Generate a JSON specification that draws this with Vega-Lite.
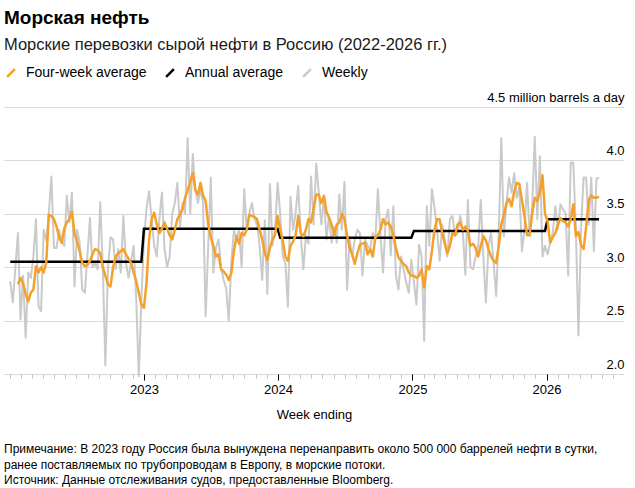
{
  "$schema": "https://vega.github.io/schema/vega-lite/v6.json",
  "background": "white",
  "padding": {"left": 4, "top": 8, "right": 11, "bottom": 2},
  "config": {
    "font": "Liberation Sans",
    "view": {"stroke": null}
  },
  "title": {
    "text": [
      "Примечание: В 2023 году Россия была вынуждена перенаправить около 500 000 баррелей нефти в сутки,",
      "ранее поставляемых по трубопроводам в Европу, в морские потоки.",
      "Источник: Данные отслеживания судов, предоставленные Bloomberg."
    ],
    "orient": "bottom",
    "anchor": "start",
    "fontSize": 12,
    "fontWeight": "normal",
    "lineHeight": 15.5,
    "offset": 23,
    "color": "#000"
  },
  "resolve": {"scale": {"color": "independent"}, "legend": {"color": "independent"}},
  "datasets": {
    "oil": [
      {"d":"2022-01-02","w":2.87,"a":3.05},
      {"d":"2022-01-09","w":2.67,"a":3.05},
      {"d":"2022-01-16","w":3.00,"a":3.05},
      {"d":"2022-01-23","w":3.32,"m":2.84,"a":3.05},
      {"d":"2022-01-30","w":2.51,"m":2.90,"a":3.05},
      {"d":"2022-02-06","w":2.92,"m":2.85,"a":3.05},
      {"d":"2022-02-13","w":2.34,"m":2.75,"a":3.05},
      {"d":"2022-02-20","w":2.95,"m":2.68,"a":3.05},
      {"d":"2022-02-27","w":2.90,"m":2.76,"a":3.05},
      {"d":"2022-03-06","w":3.10,"m":2.79,"a":3.05},
      {"d":"2022-03-13","w":3.45,"m":3.01,"a":3.05},
      {"d":"2022-03-20","w":2.63,"m":2.95,"a":3.05},
      {"d":"2022-03-27","w":2.59,"m":3.00,"a":3.05},
      {"d":"2022-04-03","w":3.35,"m":2.95,"a":3.05},
      {"d":"2022-04-10","w":3.25,"m":3.04,"a":3.05},
      {"d":"2022-04-17","w":3.50,"m":3.49,"a":3.05},
      {"d":"2022-04-24","w":3.85,"m":3.48,"a":3.05},
      {"d":"2022-05-01","w":3.18,"m":3.45,"a":3.05},
      {"d":"2022-05-08","w":3.18,"m":3.38,"a":3.05},
      {"d":"2022-05-15","w":3.35,"m":3.28,"a":3.05},
      {"d":"2022-05-22","w":3.25,"m":3.23,"a":3.05},
      {"d":"2022-05-29","w":3.20,"m":3.36,"a":3.05},
      {"d":"2022-06-05","w":3.67,"m":3.42,"a":3.05},
      {"d":"2022-06-12","w":3.42,"m":3.45,"a":3.05},
      {"d":"2022-06-19","w":3.70,"m":3.52,"a":3.05},
      {"d":"2022-06-26","w":2.82,"m":3.32,"a":3.05},
      {"d":"2022-07-03","w":3.35,"m":3.24,"a":3.05},
      {"d":"2022-07-10","w":3.23,"m":3.15,"a":3.05},
      {"d":"2022-07-17","w":2.79,"m":3.04,"a":3.05},
      {"d":"2022-07-24","w":2.76,"m":3.01,"a":3.05},
      {"d":"2022-07-31","w":3.10,"m":3.02,"a":3.05},
      {"d":"2022-08-07","w":3.46,"m":3.06,"a":3.05},
      {"d":"2022-08-14","w":3.00,"m":3.12,"a":3.05},
      {"d":"2022-08-21","w":3.04,"m":3.17,"a":3.05},
      {"d":"2022-08-28","w":2.98,"m":3.16,"a":3.05},
      {"d":"2022-09-04","w":3.61,"m":3.13,"a":3.05},
      {"d":"2022-09-11","w":3.00,"m":3.00,"a":3.05},
      {"d":"2022-09-18","w":2.08,"m":2.92,"a":3.05},
      {"d":"2022-09-25","w":2.98,"m":2.84,"a":3.05},
      {"d":"2022-10-02","w":3.28,"m":2.82,"a":3.05},
      {"d":"2022-10-09","w":3.26,"m":3.00,"a":3.05},
      {"d":"2022-10-16","w":2.98,"m":3.10,"a":3.05},
      {"d":"2022-10-23","w":3.17,"m":3.13,"a":3.05},
      {"d":"2022-10-30","w":2.95,"m":3.15,"a":3.05},
      {"d":"2022-11-06","w":3.48,"m":3.17,"a":3.05},
      {"d":"2022-11-13","w":3.04,"m":3.12,"a":3.05},
      {"d":"2022-11-20","w":2.90,"m":3.08,"a":3.05},
      {"d":"2022-11-27","w":3.05,"m":3.04,"a":3.05},
      {"d":"2022-12-04","w":3.20,"m":2.95,"a":3.05},
      {"d":"2022-12-11","w":2.70,"m":2.87,"a":3.05},
      {"d":"2022-12-18","w":1.98,"m":2.76,"a":3.05},
      {"d":"2022-12-25","w":2.70,"m":2.65,"a":3.05},
      {"d":"2023-01-01","w":3.25,"m":2.62,"a":3.36},
      {"d":"2023-01-08","w":3.55,"m":2.85,"a":3.36},
      {"d":"2023-01-15","w":3.71,"m":3.26,"a":3.36},
      {"d":"2023-01-22","w":3.45,"m":3.45,"a":3.36},
      {"d":"2023-01-29","w":3.20,"m":3.51,"a":3.36},
      {"d":"2023-02-05","w":3.10,"m":3.40,"a":3.36},
      {"d":"2023-02-12","w":3.45,"m":3.32,"a":3.36},
      {"d":"2023-02-19","w":3.70,"m":3.36,"a":3.36},
      {"d":"2023-02-26","w":3.17,"m":3.42,"a":3.36},
      {"d":"2023-03-05","w":3.00,"m":3.36,"a":3.36},
      {"d":"2023-03-12","w":3.10,"m":3.30,"a":3.36},
      {"d":"2023-03-19","w":3.50,"m":3.26,"a":3.36},
      {"d":"2023-03-26","w":3.60,"m":3.35,"a":3.36},
      {"d":"2023-04-02","w":3.79,"m":3.45,"a":3.36},
      {"d":"2023-04-09","w":3.38,"m":3.49,"a":3.36},
      {"d":"2023-04-16","w":3.60,"m":3.55,"a":3.36},
      {"d":"2023-04-23","w":3.50,"m":3.65,"a":3.36},
      {"d":"2023-04-30","w":4.21,"m":3.72,"a":3.36},
      {"d":"2023-05-07","w":3.50,"m":3.80,"a":3.36},
      {"d":"2023-05-14","w":4.06,"m":3.88,"a":3.36},
      {"d":"2023-05-21","w":3.73,"m":3.72,"a":3.36},
      {"d":"2023-05-28","w":3.60,"m":3.68,"a":3.36},
      {"d":"2023-06-04","w":3.73,"m":3.79,"a":3.36},
      {"d":"2023-06-11","w":3.60,"m":3.67,"a":3.36},
      {"d":"2023-06-18","w":2.54,"m":3.62,"a":3.36},
      {"d":"2023-06-25","w":3.20,"m":3.40,"a":3.36},
      {"d":"2023-07-02","w":3.84,"m":3.28,"a":3.36},
      {"d":"2023-07-09","w":2.95,"m":3.20,"a":3.36},
      {"d":"2023-07-16","w":3.18,"m":3.10,"a":3.36},
      {"d":"2023-07-23","w":3.26,"m":3.12,"a":3.36},
      {"d":"2023-07-30","w":3.00,"m":2.98,"a":3.36},
      {"d":"2023-08-06","w":2.88,"m":2.96,"a":3.36},
      {"d":"2023-08-13","w":2.80,"m":2.93,"a":3.36},
      {"d":"2023-08-20","w":2.50,"m":2.88,"a":3.36},
      {"d":"2023-08-27","w":3.05,"m":2.95,"a":3.36},
      {"d":"2023-09-03","w":3.35,"m":3.15,"a":3.36},
      {"d":"2023-09-10","w":3.26,"m":3.29,"a":3.36},
      {"d":"2023-09-17","w":3.35,"m":3.22,"a":3.36},
      {"d":"2023-09-24","w":3.00,"m":3.32,"a":3.36},
      {"d":"2023-10-01","w":3.73,"m":3.30,"a":3.36},
      {"d":"2023-10-08","w":3.35,"m":3.35,"a":3.36},
      {"d":"2023-10-15","w":3.51,"m":3.49,"a":3.36},
      {"d":"2023-10-22","w":3.60,"m":3.48,"a":3.36},
      {"d":"2023-10-29","w":3.45,"m":3.47,"a":3.36},
      {"d":"2023-11-05","w":3.40,"m":3.45,"a":3.36},
      {"d":"2023-11-12","w":3.20,"m":3.35,"a":3.36},
      {"d":"2023-11-19","w":2.88,"m":3.26,"a":3.36},
      {"d":"2023-11-26","w":3.44,"m":3.13,"a":3.36},
      {"d":"2023-12-03","w":2.75,"m":3.07,"a":3.36},
      {"d":"2023-12-10","w":3.78,"m":3.18,"a":3.36},
      {"d":"2023-12-17","w":3.20,"m":3.26,"a":3.36},
      {"d":"2023-12-24","w":3.35,"m":3.30,"a":3.36},
      {"d":"2023-12-31","w":3.79,"m":3.48,"a":3.36},
      {"d":"2024-01-07","w":3.50,"m":3.35,"a":3.275},
      {"d":"2024-01-14","w":3.10,"m":3.25,"a":3.275},
      {"d":"2024-01-21","w":3.04,"m":3.10,"a":3.275},
      {"d":"2024-01-28","w":2.63,"m":3.06,"a":3.275},
      {"d":"2024-02-04","w":3.66,"m":3.20,"a":3.275},
      {"d":"2024-02-11","w":3.35,"m":3.24,"a":3.275},
      {"d":"2024-02-18","w":3.51,"m":3.30,"a":3.275},
      {"d":"2024-02-25","w":3.76,"m":3.48,"a":3.275},
      {"d":"2024-03-03","w":3.30,"m":3.32,"a":3.275},
      {"d":"2024-03-10","w":2.98,"m":3.29,"a":3.275},
      {"d":"2024-03-17","w":3.30,"m":3.35,"a":3.275},
      {"d":"2024-03-24","w":3.22,"m":3.45,"a":3.275},
      {"d":"2024-03-31","w":3.85,"m":3.42,"a":3.275},
      {"d":"2024-04-07","w":3.40,"m":3.55,"a":3.275},
      {"d":"2024-04-14","w":3.97,"m":3.68,"a":3.275},
      {"d":"2024-04-21","w":3.70,"m":3.68,"a":3.275},
      {"d":"2024-04-28","w":3.40,"m":3.60,"a":3.275},
      {"d":"2024-05-05","w":3.66,"m":3.67,"a":3.275},
      {"d":"2024-05-12","w":3.26,"m":3.52,"a":3.275},
      {"d":"2024-05-19","w":3.48,"m":3.46,"a":3.275},
      {"d":"2024-05-26","w":3.23,"m":3.40,"a":3.275},
      {"d":"2024-06-02","w":3.38,"m":3.30,"a":3.275},
      {"d":"2024-06-09","w":3.23,"m":3.40,"a":3.275},
      {"d":"2024-06-16","w":3.68,"m":3.42,"a":3.275},
      {"d":"2024-06-23","w":3.35,"m":3.50,"a":3.275},
      {"d":"2024-06-30","w":3.80,"m":3.45,"a":3.275},
      {"d":"2024-07-07","w":2.79,"m":3.30,"a":3.275},
      {"d":"2024-07-14","w":3.26,"m":3.18,"a":3.275},
      {"d":"2024-07-21","w":3.10,"m":3.12,"a":3.275},
      {"d":"2024-07-28","w":3.26,"m":3.03,"a":3.275},
      {"d":"2024-08-04","w":3.35,"m":3.13,"a":3.275},
      {"d":"2024-08-11","w":3.32,"m":3.21,"a":3.275},
      {"d":"2024-08-18","w":2.92,"m":3.22,"a":3.275},
      {"d":"2024-08-25","w":3.26,"m":3.23,"a":3.275},
      {"d":"2024-09-01","w":3.20,"m":3.12,"a":3.275},
      {"d":"2024-09-08","w":3.17,"m":3.17,"a":3.275},
      {"d":"2024-09-15","w":3.32,"m":3.10,"a":3.275},
      {"d":"2024-09-22","w":3.26,"m":3.28,"a":3.275},
      {"d":"2024-09-29","w":3.73,"m":3.30,"a":3.275},
      {"d":"2024-10-06","w":3.30,"m":3.35,"a":3.275},
      {"d":"2024-10-13","w":2.95,"m":3.45,"a":3.275},
      {"d":"2024-10-20","w":3.45,"m":3.40,"a":3.275},
      {"d":"2024-10-27","w":3.54,"m":3.42,"a":3.275},
      {"d":"2024-11-03","w":3.11,"m":3.38,"a":3.275},
      {"d":"2024-11-10","w":3.57,"m":3.30,"a":3.275},
      {"d":"2024-11-17","w":2.92,"m":3.18,"a":3.275},
      {"d":"2024-11-24","w":2.79,"m":3.09,"a":3.275},
      {"d":"2024-12-01","w":3.10,"m":3.06,"a":3.275},
      {"d":"2024-12-08","w":2.98,"m":3.03,"a":3.275},
      {"d":"2024-12-15","w":2.86,"m":3.01,"a":3.275},
      {"d":"2024-12-22","w":2.76,"m":2.95,"a":3.275},
      {"d":"2024-12-29","w":3.07,"m":2.92,"a":3.275},
      {"d":"2025-01-05","w":2.86,"m":2.92,"a":3.34},
      {"d":"2025-01-12","w":2.65,"m":2.90,"a":3.34},
      {"d":"2025-01-19","w":3.21,"m":2.92,"a":3.34},
      {"d":"2025-01-26","w":3.10,"m":2.98,"a":3.34},
      {"d":"2025-02-02","w":2.31,"m":2.81,"a":3.34},
      {"d":"2025-02-09","w":3.57,"m":3.01,"a":3.34},
      {"d":"2025-02-16","w":3.20,"m":2.98,"a":3.34},
      {"d":"2025-02-23","w":3.73,"m":3.15,"a":3.34},
      {"d":"2025-03-02","w":3.56,"m":3.35,"a":3.34},
      {"d":"2025-03-09","w":3.35,"m":3.45,"a":3.34},
      {"d":"2025-03-16","w":3.06,"m":3.45,"a":3.34},
      {"d":"2025-03-23","w":3.40,"m":3.32,"a":3.34},
      {"d":"2025-03-30","w":3.26,"m":3.22,"a":3.34},
      {"d":"2025-04-06","w":3.10,"m":3.13,"a":3.34},
      {"d":"2025-04-13","w":3.45,"m":3.20,"a":3.34},
      {"d":"2025-04-20","w":3.48,"m":3.32,"a":3.34},
      {"d":"2025-04-27","w":3.29,"m":3.30,"a":3.34},
      {"d":"2025-05-04","w":3.32,"m":3.40,"a":3.34},
      {"d":"2025-05-11","w":3.48,"m":3.42,"a":3.34},
      {"d":"2025-05-18","w":3.35,"m":3.35,"a":3.34},
      {"d":"2025-05-25","w":2.93,"m":3.38,"a":3.34},
      {"d":"2025-06-01","w":3.63,"m":3.34,"a":3.34},
      {"d":"2025-06-08","w":3.00,"m":3.20,"a":3.34},
      {"d":"2025-06-15","w":2.98,"m":3.22,"a":3.34},
      {"d":"2025-06-22","w":3.10,"m":3.18,"a":3.34},
      {"d":"2025-06-29","w":3.20,"m":3.10,"a":3.34},
      {"d":"2025-07-06","w":3.63,"m":3.20,"a":3.34},
      {"d":"2025-07-13","w":3.10,"m":3.29,"a":3.34},
      {"d":"2025-07-20","w":2.67,"m":3.25,"a":3.34},
      {"d":"2025-07-27","w":3.20,"m":3.17,"a":3.34},
      {"d":"2025-08-03","w":3.32,"m":3.10,"a":3.34},
      {"d":"2025-08-10","w":3.04,"m":3.06,"a":3.34},
      {"d":"2025-08-17","w":2.73,"m":3.04,"a":3.34},
      {"d":"2025-08-24","w":3.32,"m":3.20,"a":3.34},
      {"d":"2025-08-31","w":4.21,"m":3.40,"a":3.34},
      {"d":"2025-09-07","w":3.29,"m":3.49,"a":3.34},
      {"d":"2025-09-14","w":3.60,"m":3.60,"a":3.34},
      {"d":"2025-09-21","w":3.84,"m":3.64,"a":3.34},
      {"d":"2025-09-28","w":3.70,"m":3.57,"a":3.34},
      {"d":"2025-10-05","w":3.88,"m":3.71,"a":3.34},
      {"d":"2025-10-12","w":3.65,"m":3.79,"a":3.34},
      {"d":"2025-10-19","w":3.75,"m":3.78,"a":3.34},
      {"d":"2025-10-26","w":3.15,"m":3.63,"a":3.34},
      {"d":"2025-11-02","w":3.35,"m":3.48,"a":3.34},
      {"d":"2025-11-09","w":3.79,"m":3.30,"a":3.34},
      {"d":"2025-11-16","w":3.30,"m":3.30,"a":3.34},
      {"d":"2025-11-23","w":3.55,"m":3.50,"a":3.34},
      {"d":"2025-11-30","w":4.22,"m":3.65,"a":3.34},
      {"d":"2025-12-07","w":3.45,"m":3.62,"a":3.34},
      {"d":"2025-12-14","w":4.04,"m":3.70,"a":3.34},
      {"d":"2025-12-21","w":3.10,"m":3.86,"a":3.34},
      {"d":"2025-12-28","w":3.20,"m":3.50,"a":3.34},
      {"d":"2026-01-04","w":3.12,"m":3.43,"a":3.45},
      {"d":"2026-01-11","w":3.23,"m":3.23,"a":3.45},
      {"d":"2026-01-18","w":3.32,"m":3.28,"a":3.45},
      {"d":"2026-01-25","w":3.57,"m":3.32,"a":3.45},
      {"d":"2026-02-01","w":3.35,"m":3.40,"a":3.45},
      {"d":"2026-02-08","w":3.59,"m":3.46,"a":3.45},
      {"d":"2026-02-15","w":3.54,"m":3.43,"a":3.45},
      {"d":"2026-02-22","w":3.50,"m":3.42,"a":3.45},
      {"d":"2026-03-01","w":2.92,"m":3.38,"a":3.45},
      {"d":"2026-03-08","w":3.98,"m":3.45,"a":3.45},
      {"d":"2026-03-15","w":3.98,"m":3.59,"a":3.45},
      {"d":"2026-03-22","w":3.35,"m":3.29,"a":3.45},
      {"d":"2026-03-29","w":2.36,"m":3.33,"a":3.45},
      {"d":"2026-04-05","w":3.35,"m":3.21,"a":3.45},
      {"d":"2026-04-12","w":3.84,"m":3.17,"a":3.45},
      {"d":"2026-04-19","w":3.84,"m":3.38,"a":3.45},
      {"d":"2026-04-26","w":3.40,"m":3.63,"a":3.45},
      {"d":"2026-05-03","w":3.84,"m":3.67,"a":3.45},
      {"d":"2026-05-10","w":3.15,"m":3.65,"a":3.45},
      {"d":"2026-05-17","w":3.83,"m":3.65,"a":3.45},
      {"d":"2026-05-24","w":3.84,"m":3.66,"a":3.45}
    ]
  },
  "vconcat": [
    {
      "width": 620,
      "height": 267,
      "title": {
        "text": "Морская нефть",
        "subtitle": "Морские перевозки сырой нефти в Россию (2022-2026 гг.)",
        "anchor": "start",
        "frame": "group",
        "fontSize": 19,
        "fontWeight": "bold",
        "color": "#000",
        "subtitleFontSize": 16.5,
        "subtitleColor": "#1a1a1a",
        "subtitlePadding": 9,
        "offset": 13
      },
      "data": {"name": "oil", "format": {"parse": {"d": "date:'%Y-%m-%d'"}}},
      "resolve": {"axis": {"x": "independent"}},
      "layer": [
        {
          "mark": {"type": "line", "strokeWidth": 2, "strokeJoin": "round"},
          "encoding": {
            "x": {
              "field": "d",
              "type": "temporal",
              "scale": {"domain": [{"year": 2021, "month": 12, "date": 16}, {"year": 2026, "month": 7, "date": 31}]},
              "axis": {
                "orient": "bottom",
                "tickCount": {"interval": "month", "step": 1},
                "labels": false,
                "title": null,
                "domain": false,
                "grid": false,
                "tickSize": 4,
                "tickColor": "#c4c4c4"
              }
            },
            "y": {
              "field": "w",
              "type": "quantitative",
              "scale": {"domain": [2, 4.5], "nice": false, "zero": false},
              "axis": {
                "orient": "right",
                "values": [2, 2.5, 3, 3.5, 4, 4.5],
                "labelExpr": "datum.value == 4.5 ? '4.5 million barrels a day' : format(datum.value, '.1f')",
                "labelAlign": "right",
                "labelBaseline": "bottom",
                "labelOffset": -3,
                "labelPadding": 0,
                "labelFontSize": 13,
                "labelColor": "#000",
                "ticks": false,
                "tickSize": 0,
                "domain": false,
                "grid": true,
                "gridColor": "#d9d9d9",
                "gridWidth": 1.2,
                "title": null
              }
            },
            "color": {"datum": "Weekly"}
          }
        },
        {
          "mark": {"type": "line", "strokeWidth": 2.5},
          "encoding": {
            "x": {
              "field": "d",
              "type": "temporal",
              "scale": {"domain": [{"year": 2021, "month": 12, "date": 16}, {"year": 2026, "month": 7, "date": 31}]},
              "axis": null
            },
            "y": {"field": "a", "type": "quantitative", "scale": {"domain": [2, 4.5], "nice": false, "zero": false}},
            "color": {"datum": "Annual average"}
          }
        },
        {
          "mark": {"type": "line", "strokeWidth": 2.5, "strokeJoin": "round"},
          "encoding": {
            "x": {
              "field": "d",
              "type": "temporal",
              "scale": {"domain": [{"year": 2021, "month": 12, "date": 16}, {"year": 2026, "month": 7, "date": 31}]},
              "axis": {
                "orient": "bottom",
                "values": [
                  {"year": 2023, "month": 1, "date": 1},
                  {"year": 2024, "month": 1, "date": 1},
                  {"year": 2025, "month": 1, "date": 1},
                  {"year": 2026, "month": 1, "date": 1}
                ],
                "format": "%Y",
                "labelFontSize": 13,
                "labelColor": "#000",
                "labelPadding": 3,
                "tickSize": 6,
                "tickColor": "#000",
                "domain": false,
                "grid": false,
                "title": "Week ending",
                "titleFontSize": 13,
                "titleFontWeight": "normal",
                "titleColor": "#000",
                "titlePadding": 12
              }
            },
            "y": {"field": "m", "type": "quantitative", "scale": {"domain": [2, 4.5], "nice": false, "zero": false}},
            "color": {
              "datum": "Four-week average",
              "scale": {
                "domain": ["Four-week average", "Annual average", "Weekly"],
                "range": ["#f5a02a", "#000000", "#cacaca"]
              },
              "legend": {
                "orient": "top",
                "direction": "horizontal",
                "title": null,
                "symbolType": "M-1,1L1,-1",
                "symbolSize": 60,
                "symbolStrokeWidth": 2.5,
                "labelFontSize": 14,
                "labelColor": "#000",
                "labelOffset": 8,
                "columnPadding": 14,
                "offset": 25
              }
            }
          }
        }
      ]
    }
  ]
}
